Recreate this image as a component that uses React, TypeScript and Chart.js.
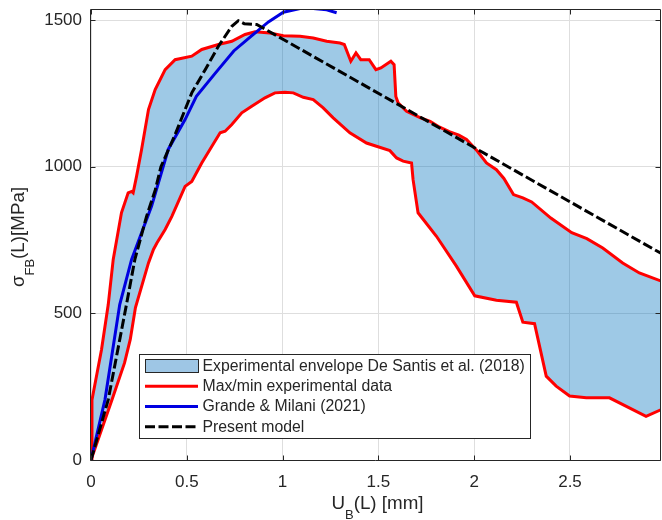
import { useEffect, useRef } from 'react';
import { Chart, registerables } from 'chart.js';

Chart.register(...registerables);

const FONT = '"Liberation Sans", Arial, Helvetica, sans-serif';
const AXIS_COLOR = '#262626';

// Axis settings
const xTicks = [0, 0.5, 1, 1.5, 2, 2.5];
const yTicks = [0, 500, 1000, 1500];
const xRange = [0, 2.975];
const yRange = [0, 1538];

const legendLabels = [
  'Experimental envelope De Santis et al. (2018)',
  'Max/min experimental data',
  'Grande & Milani (2021)',
  'Present model',
];

// Upper (max) experimental curve [U_B (mm), sigma (MPa)]
const maxCurve: number[][] = [
  [0, 0], [0.005, 205], [0.055, 377], [0.09, 530], [0.116, 684], [0.159, 843],
  [0.194, 911], [0.212, 916], [0.22, 911], [0.238, 968], [0.264, 1059], [0.3, 1195],
  [0.335, 1263], [0.387, 1331], [0.439, 1365], [0.526, 1377], [0.578, 1400],
  [0.665, 1417], [0.735, 1428], [0.804, 1451], [0.856, 1460], [0.934, 1456],
  [1.004, 1447], [1.091, 1445], [1.16, 1439], [1.23, 1428], [1.299, 1422],
  [1.322, 1417], [1.356, 1360], [1.383, 1388], [1.408, 1365], [1.452, 1365],
  [1.487, 1331], [1.513, 1337], [1.565, 1360], [1.582, 1348], [1.591, 1240],
  [1.603, 1218], [1.647, 1189], [1.72, 1167], [1.77, 1155], [1.82, 1135],
  [1.87, 1120], [1.92, 1108], [1.96, 1093], [2.017, 1053], [2.064, 1013],
  [2.116, 990], [2.155, 960], [2.205, 905], [2.254, 894], [2.3, 880],
  [2.4, 825], [2.509, 775], [2.588, 755], [2.671, 723], [2.775, 672],
  [2.862, 638], [2.977, 610],
];

// Lower (min) experimental curve
const minCurve: number[][] = [
  [0, 0], [0.11, 206], [0.175, 331], [0.205, 411], [0.232, 520], [0.3, 672],
  [0.326, 718], [0.344, 740], [0.387, 786], [0.422, 831], [0.491, 933],
  [0.526, 950], [0.578, 1013], [0.631, 1070], [0.674, 1116], [0.7, 1121],
  [0.735, 1144], [0.787, 1184], [0.839, 1206], [0.908, 1235], [0.96, 1252],
  [1.012, 1254], [1.056, 1252], [1.108, 1237], [1.16, 1229], [1.212, 1201],
  [1.264, 1167], [1.351, 1116], [1.438, 1081], [1.49, 1070], [1.56, 1055],
  [1.595, 1030], [1.629, 1019], [1.673, 1013], [1.681, 956], [1.707, 843],
  [1.803, 763], [1.907, 661], [2.003, 560], [2.116, 545], [2.22, 538],
  [2.254, 470], [2.315, 465], [2.376, 286], [2.428, 252], [2.498, 218],
  [2.585, 212], [2.706, 212], [2.897, 149], [2.977, 172],
];

// Grande & Milani (2021)
const grandeCurve: number[][] = [
  [0, 0], [0.073, 206], [0.15, 530], [0.212, 684], [0.264, 775], [0.316, 865],
  [0.403, 1059], [0.491, 1161], [0.55, 1240], [0.65, 1320], [0.745, 1395],
  [0.835, 1445], [0.926, 1494], [1.004, 1527], [1.091, 1540], [1.16, 1540],
  [1.23, 1535], [1.282, 1525],
];

// Present model
const modelCurve: number[][] = [
  [0, 0], [0.09, 206], [0.185, 530], [0.229, 684], [0.29, 831], [0.335, 920],
  [0.365, 1000], [0.412, 1070], [0.439, 1110], [0.526, 1252], [0.596, 1331],
  [0.665, 1411], [0.735, 1479], [0.769, 1498], [0.8, 1488], [0.865, 1485],
  [1.004, 1434], [2.977, 704],
];

const FILL_RGBA = 'rgba(0,114,189,0.38)';
const FILL_SOLID = 'rgb(158,198,229)';
const RED = '#ff0000';
const BLUE = 'rgb(0,0,225)';
const BLACK = '#000000';
const DASH = [10, 3.5];

const toPts = (a: number[][]) => a.map(([x, y]) => ({ x, y }));

const decor = {
  id: 'decor',
  afterDraw(chart: any) {
    const { ctx, chartArea: a, scales } = chart;
    const xs = scales.x;
    const ys = scales.y;
    ctx.save();
    // Box
    ctx.strokeStyle = AXIS_COLOR;
    ctx.lineWidth = 1;
    ctx.setLineDash([]);
    const L = Math.round(a.left) - 0.5;
    const R = Math.round(a.right) - 0.5;
    const T = Math.round(a.top) + 0.5;
    const B = Math.round(a.bottom) + 0.5;
    ctx.beginPath();
    ctx.moveTo(L, T); ctx.lineTo(R, T); ctx.lineTo(R, B); ctx.lineTo(L, B); ctx.closePath();
    ctx.stroke();
    // Inward ticks
    const tl = 5;
    ctx.beginPath();
    for (const v of xTicks) {
      const px = Math.round(xs.getPixelForValue(v)) + 0.5;
      ctx.moveTo(px, B); ctx.lineTo(px, B - tl);
      ctx.moveTo(px, T); ctx.lineTo(px, T + tl);
    }
    for (const v of yTicks) {
      const py = Math.round(ys.getPixelForValue(v)) + 0.5;
      ctx.moveTo(L, py); ctx.lineTo(L + tl, py);
      ctx.moveTo(R, py); ctx.lineTo(R - tl, py);
    }
    ctx.stroke();

    // Legend
    const lx = 139.5, ly = 354.5, lw = 391, lh = 84;
    ctx.fillStyle = '#ffffff';
    ctx.fillRect(lx, ly, lw, lh);
    ctx.strokeStyle = AXIS_COLOR;
    ctx.lineWidth = 1;
    ctx.strokeRect(lx, ly, lw, lh);
    const rows = [366, 386.3, 406.5, 426.7];
    const sx0 = 145, sx1 = 198;
    // patch
    ctx.fillStyle = FILL_SOLID;
    ctx.fillRect(sx0 + 0.5, 359.5, sx1 - sx0, 13);
    ctx.strokeRect(sx0 + 0.5, 359.5, sx1 - sx0, 13);
    const lineStyles = [
      { c: RED, d: [] as number[] },
      { c: BLUE, d: [] as number[] },
      { c: BLACK, d: DASH },
    ];
    lineStyles.forEach((s, i) => {
      ctx.beginPath();
      ctx.strokeStyle = s.c;
      ctx.lineWidth = 3;
      ctx.setLineDash(s.d);
      ctx.moveTo(sx0, rows[i + 1]);
      ctx.lineTo(sx1, rows[i + 1]);
      ctx.stroke();
    });
    ctx.setLineDash([]);
    ctx.fillStyle = AXIS_COLOR;
    ctx.font = `15.8px ${FONT}`;
    ctx.textBaseline = 'middle';
    ctx.textAlign = 'left';
    legendLabels.forEach((t, i) => ctx.fillText(t, 202.5, rows[i] + 0.5));

    // Axis titles with subscripts
    const drawParts = (parts: { t: string; s: number; dy: number }[], cx: number, baseY: number) => {
      let total = 0;
      for (const p of parts) {
        ctx.font = `${p.s}px ${FONT}`;
        total += ctx.measureText(p.t).width;
      }
      let x = cx - total / 2;
      ctx.textAlign = 'left';
      ctx.textBaseline = 'alphabetic';
      for (const p of parts) {
        ctx.font = `${p.s}px ${FONT}`;
        ctx.fillText(p.t, x, baseY + p.dy);
        x += ctx.measureText(p.t).width;
      }
    };
    ctx.fillStyle = AXIS_COLOR;
    drawParts(
      [
        { t: 'U', s: 18.8, dy: 0 },
        { t: 'B', s: 13, dy: 10 },
        { t: '(L) [mm]', s: 18.8, dy: 0 },
      ],
      377.5,
      508.5,
    );
    ctx.save();
    ctx.translate(23.5, 237);
    ctx.rotate(-Math.PI / 2);
    drawParts(
      [
        { t: 'σ', s: 18.8, dy: 0 },
        { t: 'FB', s: 13, dy: 10 },
        { t: '(L)[MPa]', s: 18.8, dy: 0 },
      ],
      0,
      0,
    );
    ctx.restore();
    ctx.restore();
  },
};

export default function App() {
  const ref = useRef<HTMLCanvasElement>(null);
  useEffect(() => {
    if (!ref.current) return;
    const envelope = [...maxCurve, ...minCurve.slice().reverse()];
    const line = { showLine: true, pointRadius: 0, pointHoverRadius: 0, fill: false, tension: 0 };
    const chart = new Chart(ref.current, {
      type: 'scatter',
      data: {
        datasets: [
          {
            ...line,
            label: legendLabels[0],
            data: toPts(envelope),
            fill: 'shape',
            backgroundColor: FILL_RGBA,
            borderColor: 'rgba(0,0,0,0)',
            borderWidth: 0,
            order: 10,
          },
          { ...line, label: legendLabels[1], data: toPts(maxCurve), borderColor: RED, borderWidth: 3, order: 5 },
          { ...line, label: legendLabels[1], data: toPts(minCurve), borderColor: RED, borderWidth: 3, order: 5 },
          { ...line, label: legendLabels[2], data: toPts(grandeCurve), borderColor: BLUE, borderWidth: 3, order: 3 },
          {
            ...line,
            label: legendLabels[3],
            data: toPts(modelCurve),
            borderColor: BLACK,
            borderWidth: 3,
            borderDash: DASH,
            order: 1,
          },
        ] as any,
      },
      options: {
        animation: false,
        responsive: false,
        events: [],
        layout: { padding: { top: 9, right: 1, left: 0, bottom: 0 } },
        plugins: { legend: { display: false }, tooltip: { enabled: false } },
        scales: {
          x: {
            type: 'linear',
            min: xRange[0],
            max: xRange[1],
            afterBuildTicks: (s: any) => {
              s.ticks = xTicks.map((v) => ({ value: v }));
            },
            afterFit: (s: any) => {
              s.height = 60;
              s.paddingLeft = 0;
              s.paddingRight = 0;
            },
            grid: { color: '#dedede', drawTicks: false, lineWidth: 1 },
            border: { display: false },
            ticks: {
              padding: 12,
              color: AXIS_COLOR,
              font: { family: FONT, size: 17 },
              maxRotation: 0,
              autoSkip: false,
              callback: (v: any) => String(v),
            },
          },
          y: {
            type: 'linear',
            min: yRange[0],
            max: yRange[1],
            afterBuildTicks: (s: any) => {
              s.ticks = yTicks.map((v) => ({ value: v }));
            },
            afterFit: (s: any) => {
              s.width = 91;
              s.paddingTop = 0;
              s.paddingBottom = 0;
            },
            grid: { color: '#dedede', drawTicks: false, lineWidth: 1 },
            border: { display: false },
            ticks: {
              padding: 9,
              color: AXIS_COLOR,
              font: { family: FONT, size: 17 },
              autoSkip: false,
              callback: (v: any) => String(v),
            },
          },
        },
      } as any,
      plugins: [decor],
    });
    return () => chart.destroy();
  }, []);
  return (
    <div style={{ position: 'fixed', left: 0, top: 0, width: 662, height: 520, background: '#ffffff' }}>
      <canvas ref={ref} width={662} height={520} style={{ width: 662, height: 520, display: 'block' }} />
    </div>
  );
}
